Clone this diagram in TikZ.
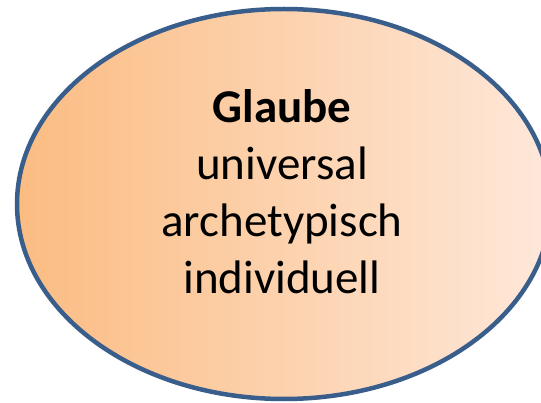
\documentclass[tikz,border=0pt]{standalone}
\usepackage{fontspec}
\setmainfont{Carlito}
\usetikzlibrary{shapes.geometric}
\definecolor{edgeblue}{RGB}{58,94,140}
\definecolor{leftorange}{RGB}{251,188,130}
\definecolor{rightpeach}{RGB}{254,232,218}
\tikzset{
  blob/.style={ellipse, draw=edgeblue, line width=4.5pt, left color=leftorange, right color=rightpeach, minimum width=534pt, minimum height=390pt, inner sep=0pt},
  label/.style={align=center, font=\fontsize{47}{57}\selectfont, text=black, inner sep=0pt}
}
\begin{document}
\begin{tikzpicture}[x=1pt,y=1pt]
\useasboundingbox (0,0) rectangle (541,402);
\fill[white] (0,0) rectangle (541,402);
\node[blob] (glaube) at (284,198) {};
\node[label, anchor=base] (txt) at (282,109) {\textbf{Glaube}\\universal\\archetypisch\\individuell};
\end{tikzpicture}
\end{document}
